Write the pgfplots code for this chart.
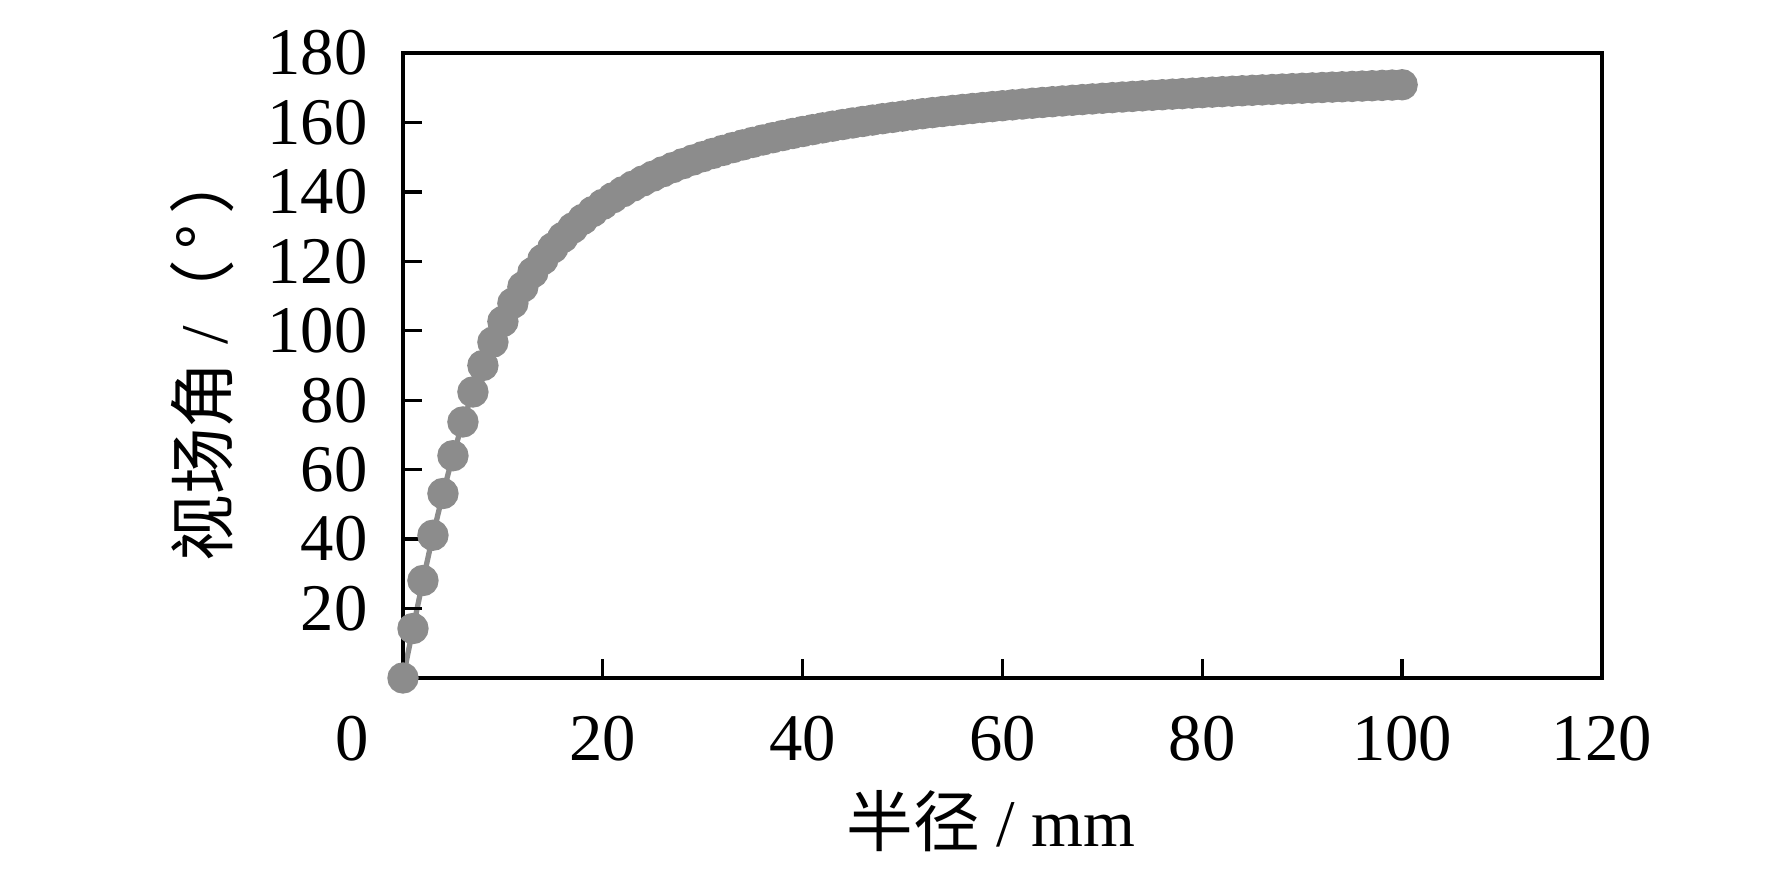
\documentclass[border=0pt]{standalone}
\usepackage{pgfplots}
\pgfplotsset{compat=1.18}
\usepackage{fontspec}
\setmainfont{Liberation Serif}
\newfontfamily\cjk{Noto Sans CJK SC}
\definecolor{curvegray}{RGB}{140,140,140}
\begin{document}
\fontsize{10}{12}\selectfont
\begin{tikzpicture}
\begin{axis}[
  scale only axis,
  width=179.85pt, height=93.75pt,
  xmin=0, xmax=120, ymin=0, ymax=180,
  xtick={20,40,...,120}, ytick={20,40,...,180},
  xticklabel={\pgfmathprintnumber{\tick}},
  yticklabel={\pgfmathprintnumber{\tick}},
  extra x ticks={0},
  extra x tick label={\pgfmathprintnumber{\tick}},
  extra x tick style={major tick length=0pt, xticklabel style={xshift=-7.65pt}},
  xtick pos=bottom, ytick pos=left,
  tick align=inside, major tick length=2.85pt,
  axis line style={line width=0.5pt},
  every tick/.style={black, line width=0.5pt},
  tick label style={font=\fontsize{10}{12}\selectfont},
  /pgf/number format/assume math mode=true,
  yticklabel style={xshift=-1.8pt},
  xticklabel style={yshift=-2.25pt},
  clip=false, axis on top,
  xlabel={{\cjk 半径} / mm},
  ylabel={{\cjk 视场角} /{\cjk （\hspace{0.15em}°\hspace{0.15em}）}},
  xlabel style={at={(rel axis cs:0.4904,-0.2704)}, anchor=base, font=\fontsize{10}{12}\selectfont},
  ylabel style={at={(rel axis cs:-0.1676,0.517)}, anchor=center, font=\fontsize{10}{12}\selectfont},
]
\addplot[color=curvegray, line width=0.8pt, mark=*, mark size=1.95pt,
  mark options={draw=curvegray, fill=curvegray}] table {
x y
0 0
1 14.25
2 28.07
3 41.11
4 53.13
5 64.01
6 73.74
7 82.37
8 90.00
9 96.73
10 102.68
11 107.95
12 112.62
13 116.78
14 120.51
15 123.86
16 126.87
17 129.60
18 132.08
19 134.33
20 136.40
21 138.29
22 140.03
23 141.64
24 143.13
25 144.51
26 145.79
27 146.99
28 148.11
29 149.16
30 150.14
31 151.06
32 151.93
33 152.75
34 153.52
35 154.25
36 154.94
37 155.60
38 156.22
39 156.82
40 157.38
41 157.92
42 158.43
43 158.92
44 159.39
45 159.84
46 160.27
47 160.68
48 161.08
49 161.45
50 161.82
51 162.17
52 162.51
53 162.83
54 163.15
55 163.45
56 163.74
57 164.02
58 164.29
59 164.56
60 164.81
61 165.06
62 165.30
63 165.53
64 165.75
65 165.97
66 166.18
67 166.38
68 166.58
69 166.77
70 166.96
71 167.14
72 167.32
73 167.49
74 167.66
75 167.82
76 167.98
77 168.14
78 168.29
79 168.43
80 168.58
81 168.72
82 168.86
83 168.99
84 169.12
85 169.25
86 169.37
87 169.49
88 169.61
89 169.73
90 169.84
91 169.95
92 170.06
93 170.17
94 170.27
95 170.37
96 170.47
97 170.57
98 170.67
99 170.76
100 170.85
};
\path (rel axis cs:-0.3361,-0.3136) rectangle (rel axis cs:1.1418,1.0848);
\end{axis}
\end{tikzpicture}
\end{document}
